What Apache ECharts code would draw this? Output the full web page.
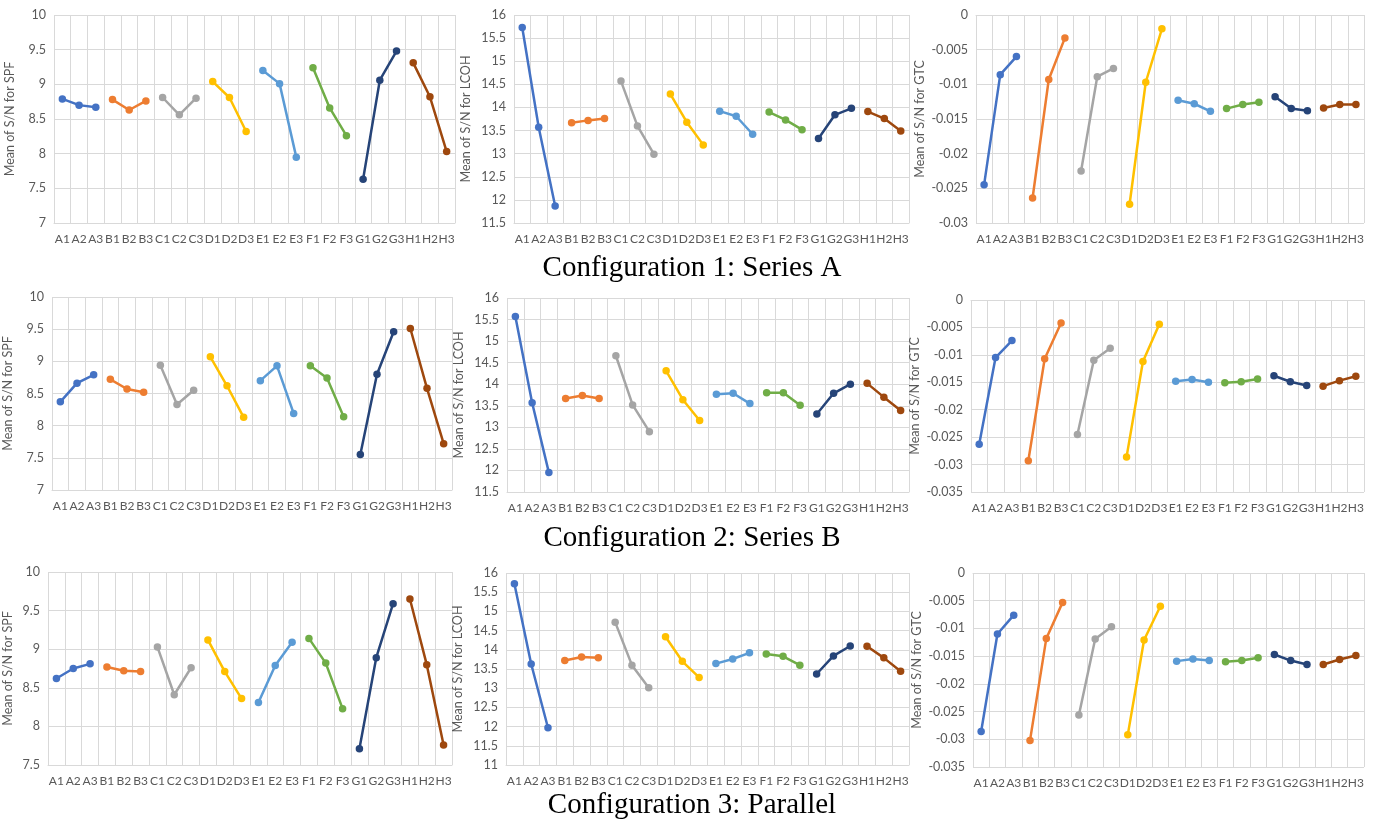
<!DOCTYPE html>
<html>
<head>
<meta charset="utf-8">
<title>S/N main effects</title>
<script src="https://cdn.jsdelivr.net/npm/echarts@6/dist/echarts.min.js"></script>
<style>
  html, body { margin: 0; padding: 0; background: #fff; }
  #main { width: 1373px; height: 824px; }
</style>
</head>
<body>
<div id="main"></div>
<script>
// x categories: 8 factors x 3 levels
const categories = ['A1','A2','A3','B1','B2','B3','C1','C2','C3','D1','D2','D3',
  'E1','E2','E3','F1','F2','F3','G1','G2','G3','H1','H2','H3'];
const factors = ['A','B','C','D','E','F','G','H'];
const factorColors = ['#4472C4','#ED7D31','#A5A5A5','#FFC000','#5B9BD5','#70AD47','#264478','#9E480E'];

// Configuration 1: Series A
const spf1 = [8.79,8.70,8.67, 8.78,8.63,8.76, 8.81,8.56,8.80, 9.04,8.81,8.32,
  9.20,9.01,7.95, 9.24,8.66,8.26, 7.63,9.06,9.48, 9.31,8.82,8.03];
const lcoh1 = [15.73,13.57,11.87, 13.67,13.72,13.76, 14.57,13.60,12.99, 14.29,13.68,13.19,
  13.92,13.81,13.42, 13.90,13.73,13.52, 13.33,13.84,13.98, 13.91,13.76,13.49];
const gtc1 = [-0.0245,-0.0086,-0.0060, -0.0264,-0.0093,-0.0033, -0.0225,-0.0089,-0.0077, -0.0273,-0.0097,-0.0020,
  -0.0123,-0.0128,-0.0139, -0.0135,-0.0129,-0.0126, -0.0118,-0.0135,-0.0138, -0.0134,-0.0129,-0.0129];

// Configuration 2: Series B
const spf2 = [8.37,8.66,8.79, 8.72,8.57,8.52, 8.94,8.33,8.55, 9.07,8.62,8.13,
  8.70,8.93,8.19, 8.93,8.74,8.14, 7.55,8.80,9.46, 9.51,8.58,7.72];
const lcoh2 = [15.57,13.57,11.95, 13.67,13.74,13.67, 14.66,13.52,12.90, 14.31,13.64,13.16,
  13.77,13.79,13.55, 13.80,13.80,13.51, 13.31,13.79,14.00, 14.02,13.70,13.39];
const gtc2 = [-0.0263,-0.0105,-0.0074, -0.0293,-0.0107,-0.0042, -0.0245,-0.0110,-0.0088, -0.0286,-0.0112,-0.0044,
  -0.0148,-0.0145,-0.0150, -0.0151,-0.0149,-0.0144, -0.0138,-0.0149,-0.0156, -0.0157,-0.0147,-0.0139];

// Configuration 3: Parallel
const spf3 = [8.62,8.75,8.81, 8.77,8.72,8.71, 9.03,8.41,8.76, 9.12,8.71,8.36,
  8.31,8.79,9.09, 9.14,8.82,8.23, 7.71,8.89,9.59, 9.65,8.80,7.76];
const lcoh3 = [15.72,13.63,11.97, 13.72,13.81,13.79, 14.72,13.60,13.01, 14.34,13.70,13.28,
  13.64,13.76,13.92, 13.89,13.83,13.60, 13.37,13.84,14.10, 14.09,13.79,13.44];
const gtc3 = [-0.0286,-0.0110,-0.0076, -0.0302,-0.0118,-0.0053, -0.0256,-0.0119,-0.0097, -0.0292,-0.0121,-0.0060,
  -0.0159,-0.0155,-0.0158, -0.0160,-0.0158,-0.0153, -0.0147,-0.0158,-0.0165, -0.0165,-0.0156,-0.0149];

const sectionTitles = ['Configuration 1: Series A', 'Configuration 2: Series B', 'Configuration 3: Parallel'];

// panels: values, y-axis name, range
const panels = [
  { values: spf1,  name: 'Mean of S/N for SPF',  min: 7,     max: 10, step: 0.5 },
  { values: lcoh1, name: 'Mean of S/N for LCOH', min: 11.5,  max: 16, step: 0.5 },
  { values: gtc1,  name: 'Mean of S/N for GTC',  min: -0.03, max: 0,  step: 0.005 },
  { values: spf2,  name: 'Mean of S/N for SPF',  min: 7,     max: 10, step: 0.5 },
  { values: lcoh2, name: 'Mean of S/N for LCOH', min: 11.5,  max: 16, step: 0.5 },
  { values: gtc2,  name: 'Mean of S/N for GTC',  min: -0.035, max: 0, step: 0.005 },
  { values: spf3,  name: 'Mean of S/N for SPF',  min: 7.5,   max: 10, step: 0.5 },
  { values: lcoh3, name: 'Mean of S/N for LCOH', min: 11,    max: 16, step: 0.5 },
  { values: gtc3,  name: 'Mean of S/N for GTC',  min: -0.035, max: 0, step: 0.005 }
];

// plot boxes (left, top, width, height), name gap
const boxes = [
  [54, 15, 401, 208, 38], [514, 15, 395, 208, 42], [976, 15, 388, 208, 50],
  [52, 297, 400, 193, 38], [507, 298, 402, 194, 42], [971, 300, 393, 192, 50],
  [48, 572, 404, 193, 34], [506, 573, 403, 192, 42], [973, 573, 391, 194, 50]
];
const titleY = [268, 538, 805];

const labelFont = 'Lato, "Open Sans", sans-serif';
const gridColor = '#d9d9d9';

const grids = [], xAxes = [], yAxes = [], series = [];
panels.forEach((p, k) => {
  const b = boxes[k];
  grids.push({ left: b[0], top: b[1], width: b[2], height: b[3], containLabel: false });
  xAxes.push({
    type: 'category', gridIndex: k, data: categories, boundaryGap: true,
    axisLine: { lineStyle: { color: gridColor } },
    axisTick: { show: false },
    axisLabel: { interval: 0, color: '#595959', fontSize: 12, fontFamily: labelFont, margin: 10 },
    splitLine: { show: true, interval: 0, lineStyle: { color: gridColor } }
  });
  yAxes.push({
    type: 'value', gridIndex: k, min: p.min, max: p.max, interval: p.step,
    name: p.name, nameLocation: 'middle', nameGap: b[4],
    nameTextStyle: { color: '#595959', fontSize: 12.5, fontFamily: labelFont },
    axisLine: { show: false }, axisTick: { show: false },
    axisLabel: { color: '#595959', fontSize: 12.5, fontFamily: labelFont, margin: 8 },
    splitLine: { lineStyle: { color: gridColor } }
  });
  // one line per factor, three levels each
  factors.forEach((f, i) => {
    series.push({
      name: f, type: 'line', xAxisIndex: k, yAxisIndex: k,
      data: p.values.slice(i * 3, i * 3 + 3).map((v, j) => [i * 3 + j, v]),
      symbol: 'circle', symbolSize: 7.5,
      lineStyle: { width: 2.5, color: factorColors[i] },
      itemStyle: { color: factorColors[i] },
      animation: false
    });
  });
});

const chart = echarts.init(document.getElementById('main'), null, { renderer: 'canvas' });
chart.setOption({
  backgroundColor: '#fff',
  animation: false,
  grid: grids,
  xAxis: xAxes,
  yAxis: yAxes,
  series: series,
  graphic: sectionTitles.map((t, r) => ({
    type: 'text', x: 692, y: titleY[r],
    style: {
      text: t, textAlign: 'center', textVerticalAlign: 'middle',
      font: '29px "Liberation Serif", "Times New Roman", serif', fill: '#000'
    }
  }))
});
</script>
</body>
</html>
